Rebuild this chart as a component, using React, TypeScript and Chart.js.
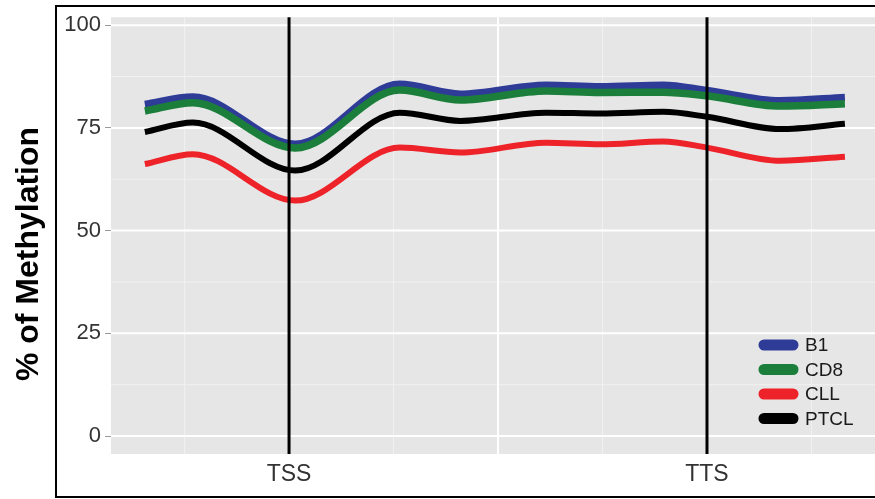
import React, { useEffect, useRef } from "react";
import { Chart, registerables } from "chart.js";

Chart.register(...registerables);

// Position along the gene body (0 = TSS, 2 = TTS)
const positions = [-0.69, -0.46, 0.03, 0.53, 0.82, 1.23, 1.49, 1.79, 2.0, 2.35, 2.66];
const b1 = [80.7, 82.5, 71.0, 85.6, 83.2, 85.4, 85.0, 85.4, 84.1, 81.6, 82.4];
const cd8 = [79.1, 81.1, 70.1, 84.2, 81.8, 84.0, 83.6, 83.7, 82.8, 80.3, 80.9];
const cll = [66.2, 68.6, 57.3, 70.2, 69.0, 71.4, 71.0, 71.7, 70.2, 67.0, 68.0];
const ptcl = [74.0, 76.3, 64.6, 78.7, 76.7, 78.7, 78.5, 78.9, 77.7, 74.7, 76.0];

const seriesNames = ["B1", "CD8", "CLL", "PTCL"];
const seriesColors = ["#2E3C98", "#1B7F3B", "#EE2229", "#000000"];

const xTickValues = [0, 2];
const xTickLabels = ["TSS", "TTS"];
const xMajorGrid = [0, 1, 2];
const xMinorGrid = [-0.5, 0.5, 1.5, 2.5];
const yTickValues = [0, 25, 50, 75, 100];
const yMinorGrid = [12.5, 37.5, 62.5, 87.5];
const markerLines = [0, 2];
const yTitle = "% of Methylation";

const FONT = "'Liberation Sans', Arial, Helvetica, sans-serif";

const panelPlugin = {
  id: "panelPlugin",
  beforeDraw(chart: any) {
    const { ctx, chartArea: a, scales } = chart;
    const x = scales.x;
    const y = scales.y;
    ctx.save();
    ctx.fillStyle = "#ffffff";
    ctx.fillRect(0, 0, chart.width, chart.height);
    ctx.fillStyle = "#E6E6E6";
    ctx.fillRect(a.left, a.top, a.right - a.left, a.bottom - a.top);
    // minor grid
    ctx.strokeStyle = "#F1F1F1";
    ctx.lineWidth = 1;
    for (const v of xMinorGrid) {
      const px = x.getPixelForValue(v);
      if (px < a.left || px > a.right) continue;
      ctx.beginPath();
      ctx.moveTo(px, a.top);
      ctx.lineTo(px, a.bottom);
      ctx.stroke();
    }
    for (const v of yMinorGrid) {
      const py = y.getPixelForValue(v);
      ctx.beginPath();
      ctx.moveTo(a.left, py);
      ctx.lineTo(a.right, py);
      ctx.stroke();
    }
    // major grid
    ctx.strokeStyle = "#FFFFFF";
    ctx.lineWidth = 2;
    for (const v of xMajorGrid) {
      const px = x.getPixelForValue(v);
      ctx.beginPath();
      ctx.moveTo(px, a.top);
      ctx.lineTo(px, a.bottom);
      ctx.stroke();
    }
    for (const v of yTickValues) {
      const py = y.getPixelForValue(v);
      ctx.beginPath();
      ctx.moveTo(a.left, py);
      ctx.lineTo(a.right, py);
      ctx.stroke();
    }
    ctx.restore();
  },
  afterDatasetsDraw(chart: any) {
    const { ctx, chartArea: a, scales } = chart;
    const x = scales.x;
    ctx.save();
    // TSS / TTS marker lines
    ctx.strokeStyle = "#000";
    ctx.lineWidth = 3;
    for (const v of markerLines) {
      const px = x.getPixelForValue(v);
      ctx.beginPath();
      ctx.moveTo(px, a.top);
      ctx.lineTo(px, a.bottom);
      ctx.stroke();
    }
    // legend
    const lx = 764;
    const ly = 345;
    const step = 24.5;
    chart.data.datasets.forEach((ds: any, i: number) => {
      const yy = ly + i * step;
      ctx.strokeStyle = ds.borderColor;
      ctx.lineWidth = 11;
      ctx.lineCap = "round";
      ctx.beginPath();
      ctx.moveTo(lx, yy);
      ctx.lineTo(lx + 29, yy);
      ctx.stroke();
      ctx.fillStyle = "#1a1a1a";
      ctx.font = `19px ${FONT}`;
      ctx.textAlign = "left";
      ctx.textBaseline = "middle";
      ctx.fillText(ds.label, 805, yy + 1);
    });
    ctx.restore();
  },
  afterDraw(chart: any) {
    const { ctx } = chart;
    ctx.save();
    ctx.fillStyle = "#000";
    ctx.font = `bold 32px ${FONT}`;
    ctx.textAlign = "center";
    ctx.textBaseline = "middle";
    ctx.translate(29, 254);
    ctx.rotate(-Math.PI / 2);
    ctx.fillText(yTitle, 0, 0);
    ctx.restore();
    ctx.save();
    ctx.strokeStyle = "#000";
    ctx.lineWidth = 2;
    ctx.strokeRect(56, 6, 840, 491);
    ctx.restore();
  },
};

export default function App() {
  const ref = useRef<HTMLCanvasElement | null>(null);
  useEffect(() => {
    if (!ref.current) return;
    const series = [b1, cd8, cll, ptcl];
    const widths = [7.5, 7.5, 6, 6];
    const chart = new Chart(ref.current, {
      type: "line",
      data: {
        datasets: series.map((vals, i) => ({
          label: seriesNames[i],
          data: positions.map((p, j) => ({ x: p, y: vals[j] })),
          borderColor: seriesColors[i],
          backgroundColor: seriesColors[i],
          borderWidth: widths[i],
          pointRadius: 0,
          fill: false,
          order: 4 - i,
          cubicInterpolationMode: "monotone",
        })),
      },
      options: {
        responsive: false,
        animation: false,
        devicePixelRatio: 1,
        layout: { padding: { top: 16, left: 0, right: 0, bottom: 0 } },
        plugins: { legend: { display: false }, tooltip: { enabled: false } },
        scales: {
          x: {
            type: "linear",
            min: -0.852,
            max: 2.804,
            afterFit(s: any) {
              s.height = 45;
            },
            afterBuildTicks(s: any) {
              s.ticks = xTickValues.map((v) => ({ value: v }));
            },
            ticks: {
              callback: (_v: any, idx: number) => xTickLabels[idx],
              font: { family: FONT, size: 23 },
              color: "#333333",
              padding: 7,
              maxRotation: 0,
              autoSkip: false,
            },
            grid: { display: false, drawTicks: false },
            border: { display: false },
          },
          y: {
            type: "linear",
            min: -4.37,
            max: 101.94,
            afterFit(s: any) {
              s.width = 111;
            },
            afterBuildTicks(s: any) {
              s.ticks = yTickValues.map((v) => ({ value: v }));
            },
            ticks: {
              font: { family: FONT, size: 22 },
              color: "#333333",
              padding: 4,
              autoSkip: false,
            },
            grid: {
              drawOnChartArea: false,
              drawTicks: true,
              tickLength: 6,
              color: "#9a9a9a",
              tickColor: "#9a9a9a",
            },
            border: { display: false },
          },
        },
      },
      plugins: [panelPlugin],
    } as any);
    return () => chart.destroy();
  }, []);
  return (
    <div style={{ position: "fixed", left: 0, top: 0, width: 875, height: 499 }}>
      <canvas ref={ref} width={875} height={499} style={{ display: "block" }} />
    </div>
  );
}
